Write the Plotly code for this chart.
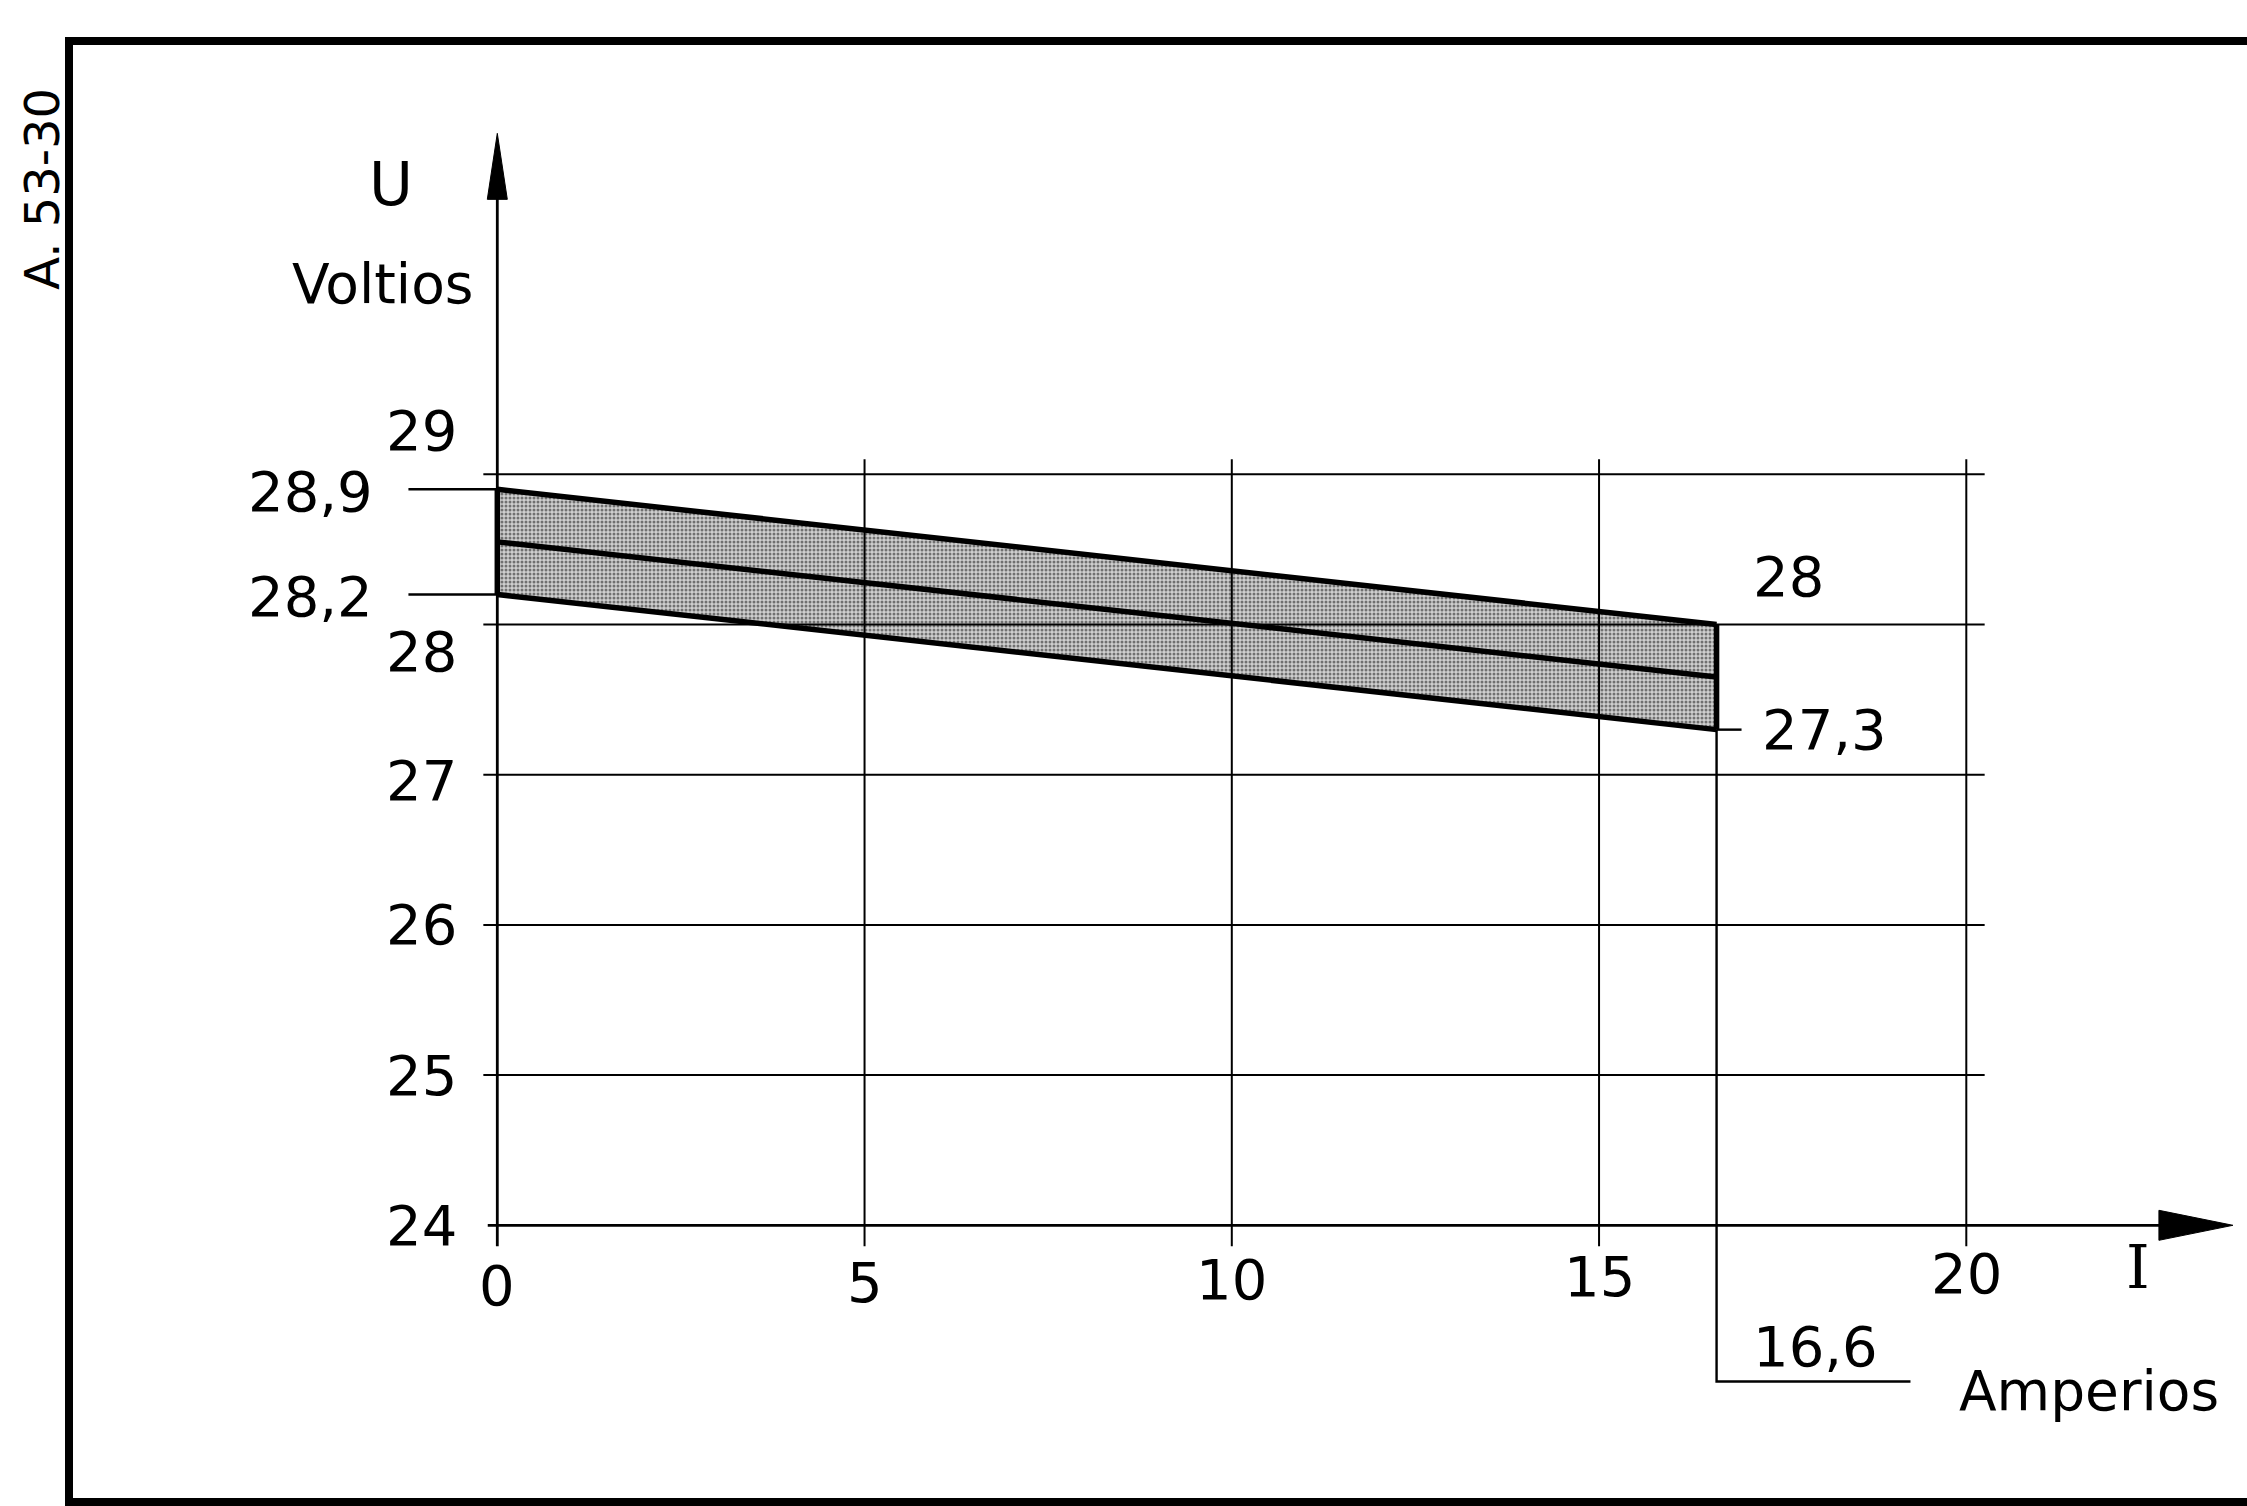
import plotly.graph_objects as go

# banda de regulacion: tension (V) frente a corriente (A)
I_band = [0, 16.6]
U_max = [28.9, 28.0]
U_min = [28.2, 27.3]
U_nom = [28.55, 27.65]

x_ticks = [0, 5, 10, 15, 20]
x_tick_labels = ["0", "5", "10", "15", "20"]
y_ticks = [24, 25, 26, 27, 28, 29]
y_tick_labels = ["24", "25", "26", "27", "28", "29"]

# cotas escritas sobre el dibujo
left_marks = [28.9, 28.2]
left_mark_labels = ["28,9", "28,2"]
right_mark_labels = ["28", "27,3"]
I_max_label = "16,6"

W, H = 2247, 1506
# escala del dibujo (px por unidad) y origen en pixeles
PX_X, PX_Y = 73.45, 150.2
X0_PX, Y24_PX = 497.3, 1225.3
x_range = [-X0_PX / PX_X, (W - X0_PX) / PX_X]
y_range = [24 - (H - Y24_PX) / PX_Y, 24 + Y24_PX / PX_Y]

X_TIP, Y_TIP = 23.63, 31.27      # puntas de flecha de los ejes
GRID_X_END, GRID_Y_END = 20.25, 29.1
FONT = "DejaVu Sans"
BLACK = "black"
BAND_W = 5.5

fig = go.Figure()


def seg_trace(xs, ys, width):
    fig.add_trace(go.Scatter(x=xs, y=ys, mode="lines",
                             line=dict(color=BLACK, width=width),
                             hoverinfo="skip"))


# banda sombreada
fig.add_trace(go.Scatter(x=I_band, y=U_min, mode="lines",
                         line=dict(color=BLACK, width=BAND_W),
                         hoverinfo="skip"))
fig.add_trace(go.Scatter(x=I_band, y=U_max, mode="lines", fill="tonexty",
                         fillpattern=dict(shape=".", fgcolor="#111111",
                                          bgcolor="#cfcfcf", size=4,
                                          solidity=0.45),
                         line=dict(color=BLACK, width=BAND_W),
                         hoverinfo="skip"))

# cuadricula
gx, gy = [], []
for v in y_ticks[1:]:
    gx += [-0.19, GRID_X_END, None]
    gy += [v, v, None]
for v in x_ticks[1:]:
    gx += [v, v, None]
    gy += [23.86, GRID_Y_END, None]
seg_trace(gx, gy, 2)

# ejes
seg_trace([-0.13, X_TIP - 0.5], [24, 24], 2.8)
seg_trace([0, 0], [23.86, Y_TIP - 0.3], 2.8)

# linea media y cierres de la banda
fig.add_trace(go.Scatter(x=I_band, y=U_nom, mode="lines",
                         line=dict(color=BLACK, width=BAND_W),
                         hoverinfo="skip"))
seg_trace([I_band[0], I_band[0]], [U_min[0], U_max[0]], BAND_W)
seg_trace([I_band[1], I_band[1]], [U_min[1], U_max[1]], BAND_W)

# lineas de referencia de las cotas
lx, ly = [], []
for v in left_marks:
    lx += [-1.21, 0, None]
    ly += [v, v, None]
lx += [I_band[1], 16.94, None]
ly += [U_min[1], U_min[1], None]
lx += [I_band[1], I_band[1], 19.24]
ly += [U_min[1], 22.96, 22.96]
seg_trace(lx, ly, 2.4)

# puntas de flecha
fig.add_shape(type="path", xref="x", yref="y", xsizemode="pixel",
              ysizemode="pixel", xanchor=0, yanchor=Y_TIP,
              path="M -10 -66 L 10 -66 L 0 0 Z",
              fillcolor=BLACK, line=dict(color=BLACK, width=1))
fig.add_shape(type="path", xref="x", yref="y", xsizemode="pixel",
              ysizemode="pixel", xanchor=X_TIP, yanchor=24,
              path="M -74 -15 L -74 15 L 0 0 Z",
              fillcolor=BLACK, line=dict(color=BLACK, width=1))

# marco
fig.add_shape(type="rect", xref="paper", yref="paper",
              x0=69 / W, x1=1.05, y0=(H - 1502) / H, y1=1 - 41 / H,
              line=dict(color=BLACK, width=8), fillcolor="rgba(0,0,0,0)",
              layer="above")


def label(text, x, y, size=56, xanchor="center", xshift=0, yshift=0,
          angle=0, family=FONT):
    fig.add_annotation(text=text, x=x, y=y, xref="x", yref="y",
                       showarrow=False, xanchor=xanchor, yanchor="middle",
                       xshift=xshift, yshift=yshift, textangle=angle,
                       font=dict(family=family, size=size, color=BLACK))


y_label_shift = {"29": 44, "28": -27, "27": -6}
for v, t in zip(y_ticks, y_tick_labels):
    label(t, 0, v, xanchor="right", xshift=-38,
          yshift=y_label_shift.get(t, 0))
for v, t in zip(x_ticks, x_tick_labels):
    label(t, v, 24, yshift=-60 + v * 0.6)

for v, t in zip(left_marks, left_mark_labels):
    label(t, -1.66, v, xanchor="right", yshift=-2)
label(right_mark_labels[0], 17.07, U_max[1], xanchor="left", yshift=48)
label(right_mark_labels[1], 17.19, U_min[1], xanchor="left", yshift=0)
label(I_max_label, 17.07, 23.19, xanchor="left")

label("U", -1.446, 30.93, size=60)
label("Voltios", -1.56, 30.27, size=55)
label("I", 22.34, 23.72, size=60, family="DejaVu Serif")
label("Amperios", 19.88, 22.95, size=55, xanchor="left", yshift=-8)
label("A. 53-30", -6.2, 30.9, size=48, angle=-90)

fig.update_layout(
    width=W, height=H,
    margin=dict(l=0, r=0, t=0, b=0),
    paper_bgcolor="white", plot_bgcolor="white",
    showlegend=False,
    xaxis=dict(range=x_range, visible=False, fixedrange=True),
    yaxis=dict(range=y_range, visible=False, fixedrange=True),
)

fig.write_html("out.html", config={"displayModeBar": False},
               post_script="document.body.style.margin='0';")
